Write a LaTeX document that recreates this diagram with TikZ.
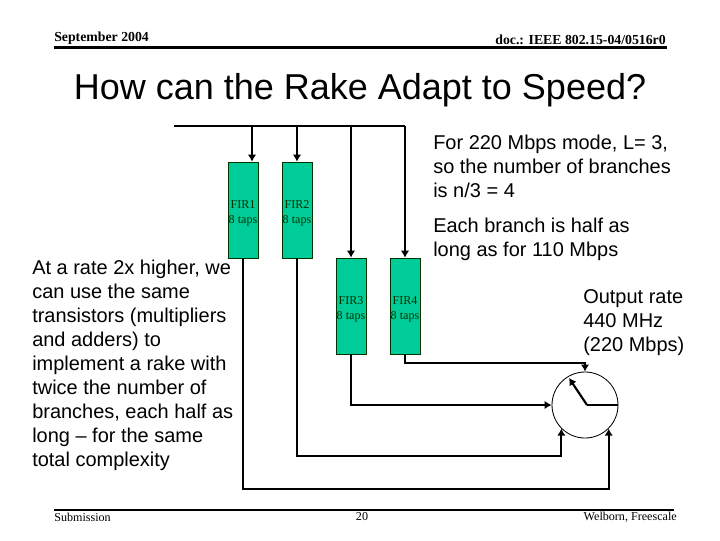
\documentclass[tikz,border=0pt]{standalone}
\usepackage{fontspec}
\setmainfont{Liberation Sans}
\newfontfamily\tmsfont{Liberation Serif}
\usetikzlibrary{arrows.meta}
\newcommand{\firlabel}[1]{\rule{0pt}{10pt}#1\\8 taps}
\tikzset{
  firbox/.style={draw=black!80!green,fill=firgreen,minimum width=.75cm,minimum height=2.4cm,inner sep=0pt,align=center,
    font=\tmsfont\fontsize{8.6}{10.6}\selectfont,text=black!80!green},
  link/.style={line width=1.5pt},
  feed/.style={link,-{Latex[length=5pt,width=6pt]}},
  bodytext/.style={anchor=west,inner sep=0pt,align=left,font=\fontsize{14.2}{17.05}\selectfont},
  slidetext/.style={inner sep=0pt,font=\tmsfont\fontsize{8.6}{10}\selectfont},
  headtext/.style={inner sep=0pt,font=\tmsfont\bfseries\fontsize{9.8}{11}\selectfont},
}
\definecolor{firgreen}{RGB}{0,204,153}
\begin{document}
\begin{tikzpicture}[x=.025cm,y=-.025cm]
\useasboundingbox (0,0) rectangle (720,540);
% header and footer
\node[headtext,anchor=west] (date) at (54,38) {September 2004};
\node[headtext,anchor=east] (doc) at (666,40) {doc.: IEEE 802.15-04/0516r0};
\draw[line width=1.5pt] (54,47.5) -- (667,47.5);
\draw[line width=1.5pt] (54,510) -- (674,510);
\node[slidetext,anchor=west] (sub) at (54,517) {Submission};
\node[slidetext] (page) at (362,517) {20};
\node[slidetext,anchor=east] (who) at (677,517) {Welborn, Freescale};
\node[inner sep=0pt,font=\fontsize{25.6}{30}\selectfont] (title) at (360,90) {How can the Rake Adapt to Speed?};
% text blocks
\node[bodytext] (modetext) at (433,166) {For 220 Mbps mode, L= 3,\\so the number of branches\\is n/3 = 4};
\node[bodytext] (halftext) at (433,239) {Each branch is half as\\long as for 110 Mbps};
\node[bodytext] (ratetext) at (583,323) {Output rate\\440 MHz\\(220 Mbps)};
\node[bodytext] (sametext) at (32,365) {At a rate 2x higher, we\\can use the same\\transistors (multipliers\\and adders) to\\implement a rake with\\twice the number of\\branches, each half as\\long -- for the same\\total complexity};
% filters
\node[firbox] (fir1) at (243,210) {\firlabel{FIR1}};
\node[firbox] (fir2) at (297,210) {\firlabel{FIR2}};
\node[firbox] (fir3) at (351,306) {\firlabel{FIR3}};
\node[firbox] (fir4) at (405,306) {\firlabel{FIR4}};
\node[draw,circle,minimum size=1.65cm,inner sep=0pt,line width=.6pt] (sw) at (585,405) {};
% input bus
\coordinate (busin) at (174,126);
\coordinate (busend) at (405,126);
\coordinate (drop1) at (252,126);
\draw[link] (busin) -- (busend);
\draw[feed] (drop1) -- (drop1 |- fir1.north);
\draw[feed] (fir2.north |- busin) -- (fir2.north);
\draw[feed] (fir3.north |- busin) -- (fir3.north);
\draw[feed] (busend) -- (fir4.north);
% outputs to the switch
\coordinate (low1) at (0,489);
\coordinate (low2) at (0,456);
\coordinate (low4) at (0,363);
\draw[feed] (fir1.south) |- (sw.-45 |- low1) -- (sw.-45);
\draw[feed] (fir2.south) |- (sw.-135 |- low2) -- (sw.-135);
\draw[feed] (fir3.south) |- (sw.west);
\draw[feed] (fir4.south) |- (sw.north |- low4) -- (sw.north);
% pointer
\coordinate (hub) at (587,405);
\coordinate (hand) at (569,378);
\draw[feed] (hub) -- (hand);
\draw[link] (hub) -- (sw.east);
\end{tikzpicture}
\end{document}
